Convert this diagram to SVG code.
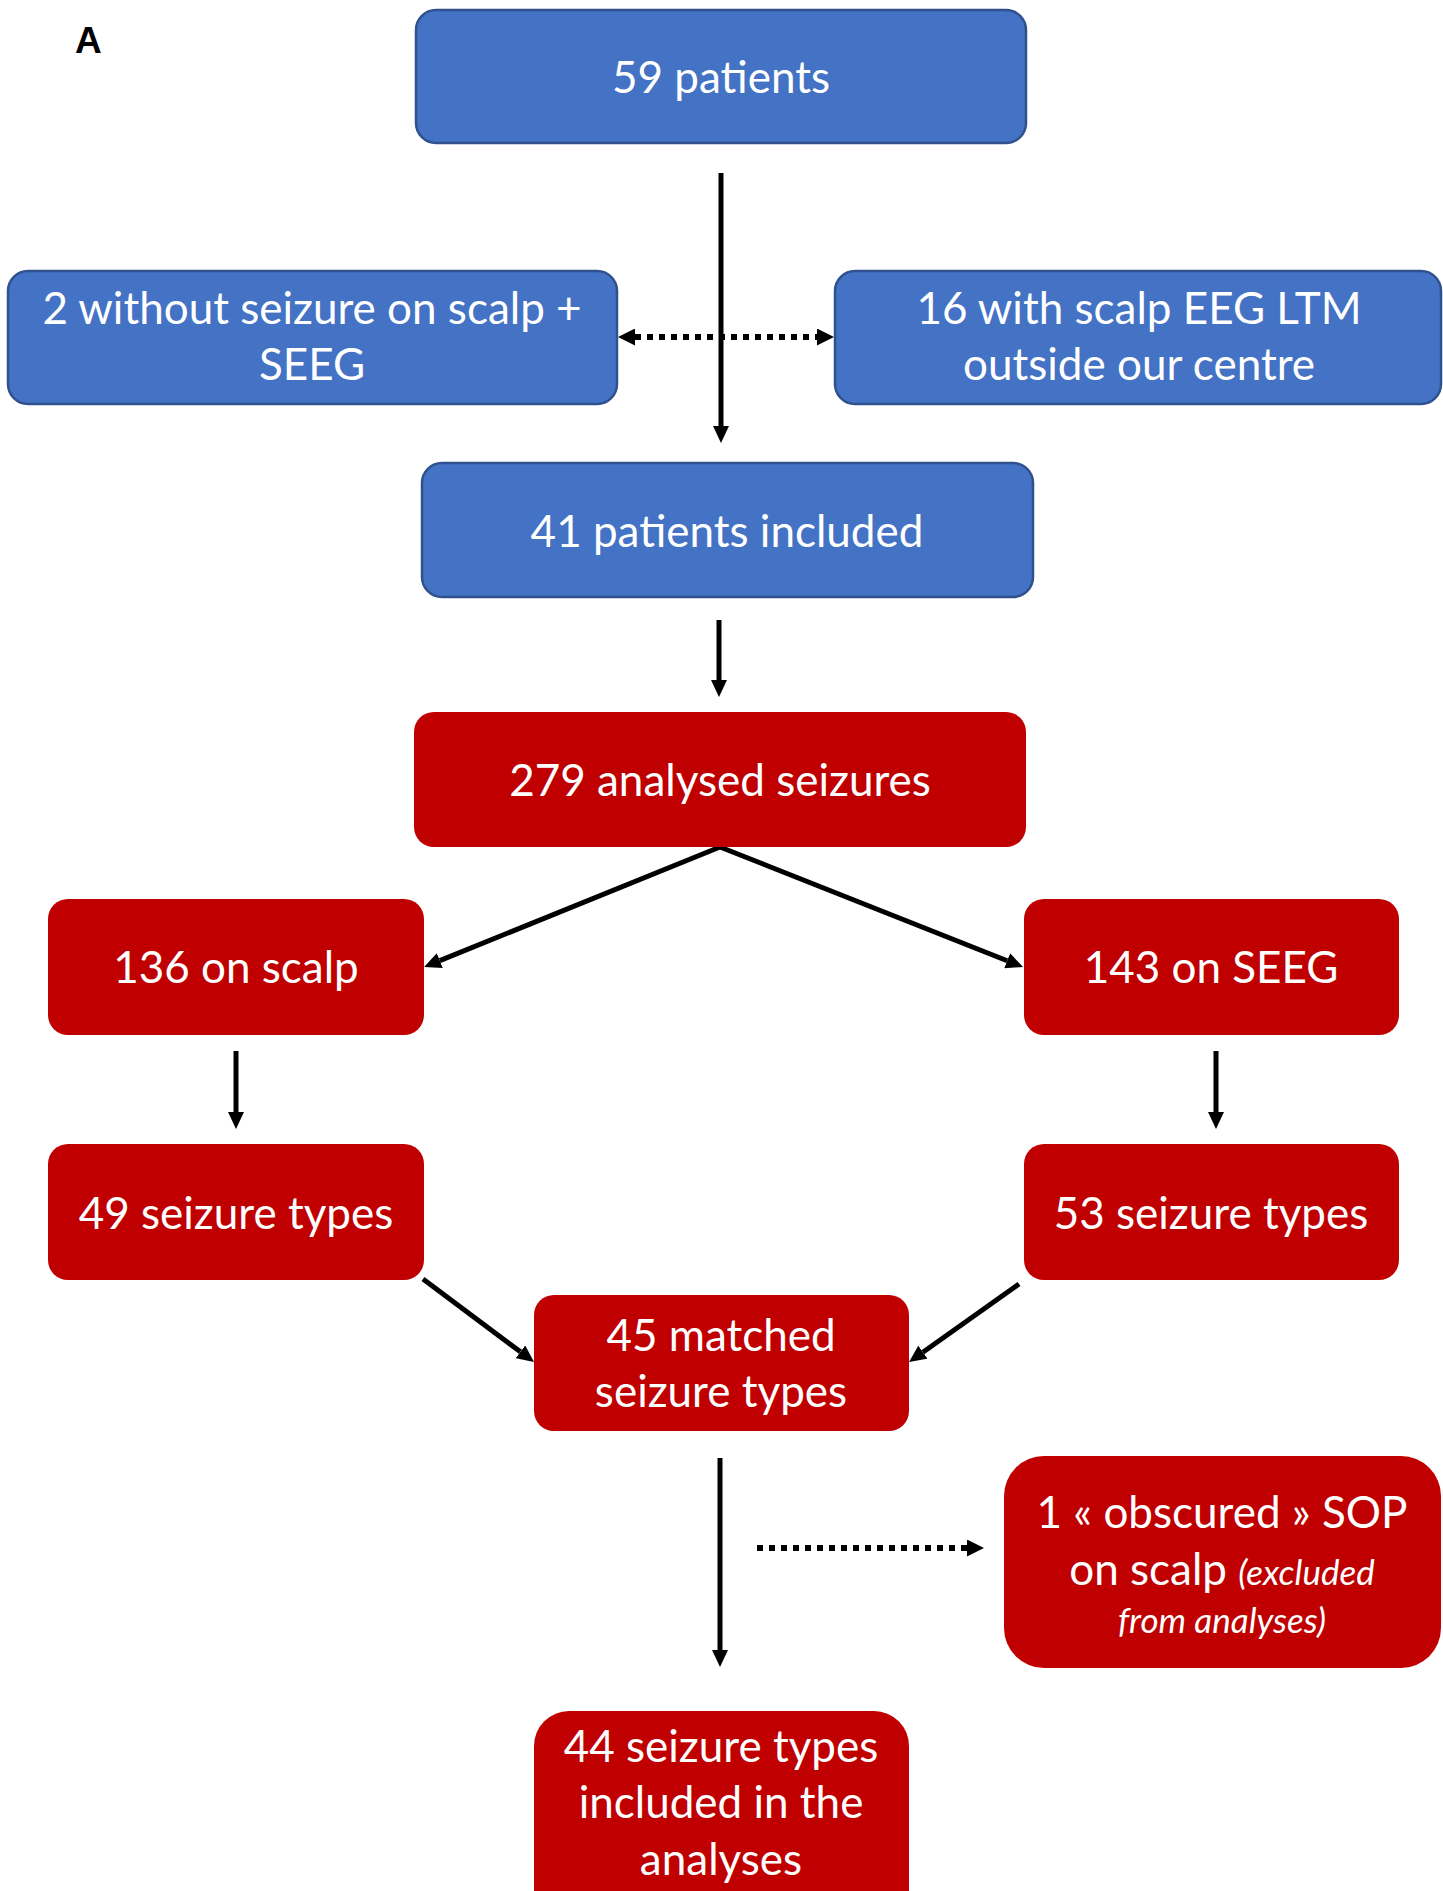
<svg xmlns="http://www.w3.org/2000/svg" width="1443" height="1891" viewBox="0 0 1443 1891">
  <style>
    .blue { fill: #4472C4; stroke: #2F528F; stroke-width: 2.5; }
    .red { fill: #C00000; }
    .t { font-family: Lato, "Open Sans", sans-serif; font-size: 44px; fill: #FFFFFF; text-anchor: middle; }
    .ti { font-style: italic; font-size: 35px; }
    .ln { stroke: #000000; stroke-width: 5; fill: none; }
    .dot { stroke: #000000; stroke-width: 6; stroke-dasharray: 6 6; fill: none; }
  </style>
  <defs>
    <marker id="ah" viewBox="0 0 17 16" refX="0" refY="8" markerWidth="17" markerHeight="16" markerUnits="userSpaceOnUse" orient="auto-start-reverse">
      <path d="M0,0 L17,8 L0,16 z" fill="#000"/>
    </marker>
    <marker id="ahd" viewBox="0 0 17 17" refX="0" refY="8.5" markerWidth="17" markerHeight="17" markerUnits="userSpaceOnUse" orient="auto-start-reverse">
      <path d="M0,0 L17,8.5 L0,17 z" fill="#000"/>
    </marker>
  </defs>

  <text x="75" y="53" font-family="'Liberation Sans', Arial, sans-serif" font-weight="bold" font-size="37" fill="#000">A</text>

  <g id="connectors">
    <line class="ln" x1="721" y1="173" x2="721" y2="426" marker-end="url(#ah)"/>
    <line class="dot" x1="635" y1="337" x2="817" y2="337" marker-start="url(#ahd)" marker-end="url(#ahd)"/>
    <line class="ln" x1="719" y1="620" x2="719" y2="680" marker-end="url(#ah)"/>
    <line class="ln" x1="720" y1="847" x2="439.8" y2="960.6" marker-end="url(#ah)"/>
    <line class="ln" x1="720" y1="847" x2="1007.2" y2="960.7" marker-end="url(#ah)"/>
    <line class="ln" x1="236" y1="1051" x2="236" y2="1112" marker-end="url(#ah)"/>
    <line class="ln" x1="1216" y1="1051" x2="1216" y2="1112" marker-end="url(#ah)"/>
    <line class="ln" x1="423" y1="1279" x2="520.4" y2="1351.8" marker-end="url(#ah)"/>
    <line class="ln" x1="1019" y1="1284" x2="922.9" y2="1352.2" marker-end="url(#ah)"/>
    <line class="ln" x1="720" y1="1458" x2="720" y2="1650" marker-end="url(#ah)"/>
    <line class="dot" x1="757" y1="1548" x2="967" y2="1548" marker-end="url(#ahd)"/>
  </g>

  <g id="n59">
    <rect class="blue" x="416" y="10" width="610" height="133" rx="20"/>
    <text class="t" x="721" y="93">59 patients</text>
  </g>
  <g id="nLeft">
    <rect class="blue" x="8" y="271" width="609" height="133" rx="20"/>
    <text class="t" x="312" y="324">2 without seizure on scalp +</text>
    <text class="t" x="312" y="380">SEEG</text>
  </g>
  <g id="nRight">
    <rect class="blue" x="835" y="271" width="606" height="133" rx="20"/>
    <text class="t" x="1139" y="324">16 with scalp EEG LTM</text>
    <text class="t" x="1139" y="380">outside our centre</text>
  </g>
  <g id="n41">
    <rect class="blue" x="422" y="463" width="611" height="134" rx="20"/>
    <text class="t" x="727" y="547">41 patients included</text>
  </g>
  <g id="n279">
    <rect class="red" x="414" y="712" width="612" height="135" rx="20"/>
    <text class="t" x="720" y="796">279 analysed seizures</text>
  </g>
  <g id="n136">
    <rect class="red" x="48" y="899" width="376" height="136" rx="20"/>
    <text class="t" x="236" y="983">136 on scalp</text>
  </g>
  <g id="n143">
    <rect class="red" x="1024" y="899" width="375" height="136" rx="20"/>
    <text class="t" x="1211" y="983">143 on SEEG</text>
  </g>
  <g id="n49">
    <rect class="red" x="48" y="1144" width="376" height="136" rx="20"/>
    <text class="t" x="236" y="1229">49 seizure types</text>
  </g>
  <g id="n53">
    <rect class="red" x="1024" y="1144" width="375" height="136" rx="20"/>
    <text class="t" x="1211" y="1229">53 seizure types</text>
  </g>
  <g id="n45">
    <rect class="red" x="534" y="1295" width="375" height="136" rx="20"/>
    <text class="t" x="721" y="1351">45 matched</text>
    <text class="t" x="721" y="1407">seizure types</text>
  </g>
  <g id="nObscured">
    <rect class="red" x="1004" y="1456" width="437" height="212" rx="40"/>
    <text class="t" x="1222" y="1528">1 « obscured » SOP</text>
    <text class="t" x="1222" y="1585">on scalp <tspan class="ti">(excluded</tspan></text>
    <text class="t ti" x="1222" y="1633">from analyses)</text>
  </g>
  <g id="n44">
    <rect class="red" x="534" y="1711" width="375" height="230" rx="35"/>
    <text class="t" x="721" y="1762">44 seizure types</text>
    <text class="t" x="721" y="1818">included in the</text>
    <text class="t" x="721" y="1875">analyses</text>
  </g>
</svg>
